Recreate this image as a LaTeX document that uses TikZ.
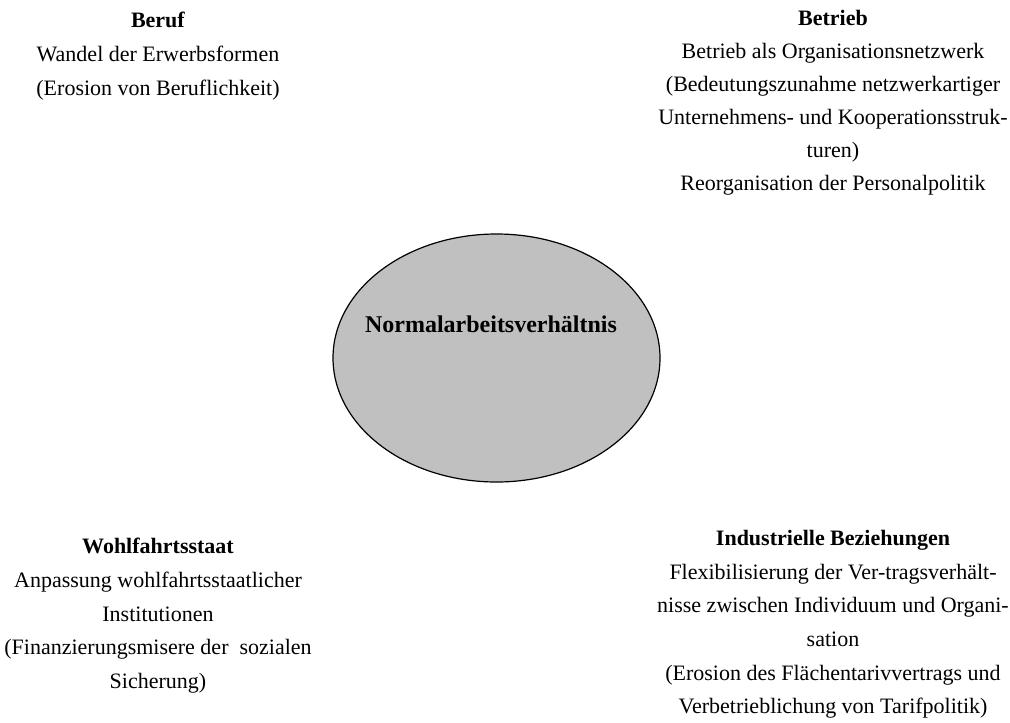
\documentclass[tikz,border=0pt]{standalone}
\usepackage{fontspec}
\setmainfont{Liberation Serif}
\usepackage{tikz}
\usetikzlibrary{shapes.geometric}
\definecolor{color-ellipse}{RGB}{192,192,192}

\begin{document}
\begin{tikzpicture}[x=0.5pt, y=-0.5pt,
  block/.style={align=center, anchor=north, inner sep=0pt, font=\fontsize{11}{16.8}\selectfont},
  core/.style={ellipse, draw, line width=0.6pt, fill=color-ellipse, minimum width=327pt*0.5, minimum height=248pt*0.5, inner sep=0pt}]

\useasboundingbox (0,0) rectangle (1010,722);

% the ellipse in the middle
\node [core] (nav) at (496.5,358) {};
\node [font=\fontsize{12}{14}\selectfont\bfseries] (navtext) at (491,324) {Normalarbeitsverh\"altnis};

% the four fields round it
\node [block] (beruf) at (158,12) {\textbf{Beruf}\\
 Wandel der Erwerbsformen\\
 (Erosion von Beruflichkeit)};

\node [block, font=\fontsize{11}{16.5}\selectfont] (betrieb) at (833,10) {\textbf{Betrieb}\\
 Betrieb als Organisationsnetzwerk\\
 (Bedeutungszunahme netzwerkartiger\\
 Unternehmens- und Kooperationsstruk-\\
 turen)\\
 Reorganisation der Personalpolitik};

\node [block] (staat) at (158,538) {\textbf{Wohlfahrtsstaat}\\
 Anpassung wohlfahrtsstaatlicher\\
 Institutionen\\
 (Finanzierungsmisere der \ sozialen\\
 Sicherung)};

\node [block] (ib) at (833,530) {\textbf{Industrielle Beziehungen}\\
 Flexibilisierung der Ver-tragsverh\"alt-\\
 nisse zwischen Individuum und Organi-\\
 sation\\
 (Erosion des Fl\"achentarivvertrags und\\
 Verbetrieblichung von Tarifpolitik)};

\end{tikzpicture}
\end{document}
